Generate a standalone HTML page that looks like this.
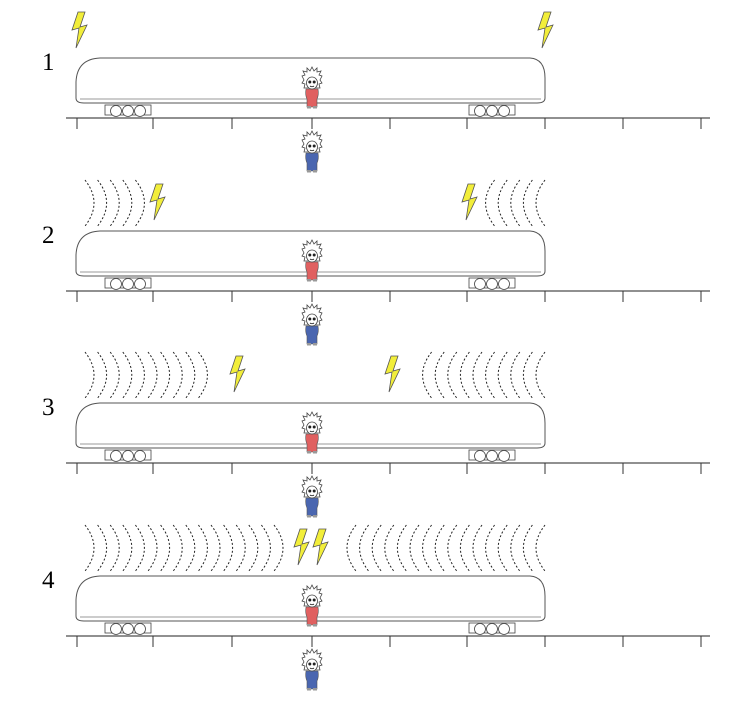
<!DOCTYPE html>
<html><head><meta charset="utf-8"><style>
html,body{margin:0;padding:0;background:#fff;}
svg{display:block;}
</style></head><body>
<svg id="s" width="748" height="711" viewBox="0 0 748 711" xmlns="http://www.w3.org/2000/svg">
<defs>
<g id="bolt"><polygon points="6,0 0,18 7,16 4,36 15,13 8,15 13,0" fill="#f2ee3a" stroke="#555" stroke-width="0.8"/></g>
<g id="bogie"><rect x="0" y="0" width="46" height="10" fill="#fff" stroke="#444" stroke-width="0.8"/>
<circle cx="11" cy="6" r="5.5" fill="#fff" stroke="#444" stroke-width="0.8"/>
<circle cx="23" cy="6" r="5.5" fill="#fff" stroke="#444" stroke-width="0.8"/>
<circle cx="35" cy="6" r="5.5" fill="#fff" stroke="#444" stroke-width="0.8"/></g>
<g id="head"><path d="M-8,-2 L-10,-6 L-7,-7 L-9,-11 L-5,-10 L-5,-14 L-2,-11 L0,-15 L2,-11 L5,-14 L5,-10 L9,-11 L7,-7 L10,-6 L8,-2 L10,1 L7,2 L8,6 L-8,6 L-7,2 L-10,1 Z" fill="#fff" stroke="#444" stroke-width="0.8"/>
<ellipse cx="0" cy="1" rx="5.5" ry="6" fill="#fff" stroke="#444" stroke-width="0.8"/>
<circle cx="-2.2" cy="0" r="1.5" fill="#222"/><circle cx="2.2" cy="0" r="1.5" fill="#222"/>
<path d="M-2,4 Q0,5.5 2,4" fill="none" stroke="#222" stroke-width="0.8"/></g>
</defs>
</svg>
<script>
var s=document.getElementById('s'),h='';
var offs=[0,173,345,518];
var bolts=[[[72,12],[538,12]],[[150,184],[462,184]],[[230,356],[385,356]],[[294,529],[313,529]]];
var waves=[[0,0],[5,5],[10,10],[16,16]];
offs.forEach(function(o,i){
  h+='<text x="42" y="'+(70+o)+'" font-family="Liberation Serif,serif" font-size="25">'+(i+1)+'</text>';
  h+='<path d="M100,'+(58+o)+' L530,'+(58+o)+' Q545,'+(59+o)+' 545,'+(78+o)+' L545,'+(98+o)+' Q545,'+(103+o)+' 537,'+(103+o)+' L84,'+(103+o)+' Q76,'+(103+o)+' 76,'+(98+o)+' L76,'+(82+o)+' Q77,'+(59+o)+' 100,'+(58+o)+' Z" fill="#fff" stroke="#555" stroke-width="1"/>';
  h+='<line x1="80" y1="'+(99+o)+'" x2="541" y2="'+(99+o)+'" stroke="#777" stroke-width="0.8"/>';
  h+='<use href="#bogie" x="105" y="'+(105+o)+'"/><use href="#bogie" x="469" y="'+(105+o)+'"/>';
  h+='<line x1="66" y1="'+(118+o)+'" x2="710" y2="'+(118+o)+'" stroke="#222" stroke-width="1"/>';
  [77,153,232,312,390,467,545,623,701].forEach(function(x){h+='<line x1="'+x+'" y1="'+(118+o)+'" x2="'+x+'" y2="'+(129+o)+'" stroke="#333" stroke-width="1"/>';});
  [['#e06060',68],['#4a66b0',132]].forEach(function(p){var y=p[1]+o;
    h+='<g transform="translate(312,'+(y+14)+')">'+
    '<path d="M-6,7 Q-7,13 -5,17 L-5,25 L5,25 L5,17 Q7,13 6,7 Z" fill="'+p[0]+'" stroke="#555" stroke-width="0.6"/>'+
    '<rect x="-5" y="24" width="4" height="2.5" fill="#999"/><rect x="1" y="24" width="4" height="2.5" fill="#999"/>'+
    '<use href="#head"/></g>';});
  bolts[i].forEach(function(b){h+='<use href="#bolt" x="'+b[0]+'" y="'+(b[1])+'"/>';});
  var yt=7+o,yb=53+o,ym=30+o;
  for(var k=0;k<waves[i][0];k++){var x=85+k*12.6;
    h+='<path d="M'+x+','+yt+' Q'+(x+18)+','+ym+' '+x+','+yb+'" fill="none" stroke="#222" stroke-width="1" stroke-dasharray="2,2"/>';}
  for(var k=0;k<waves[i][1];k++){var x=545-k*12.6;
    h+='<path d="M'+x+','+yt+' Q'+(x-18)+','+ym+' '+x+','+yb+'" fill="none" stroke="#222" stroke-width="1" stroke-dasharray="2,2"/>';}
});
s.insertAdjacentHTML('beforeend',h);
</script>
</body></html>
